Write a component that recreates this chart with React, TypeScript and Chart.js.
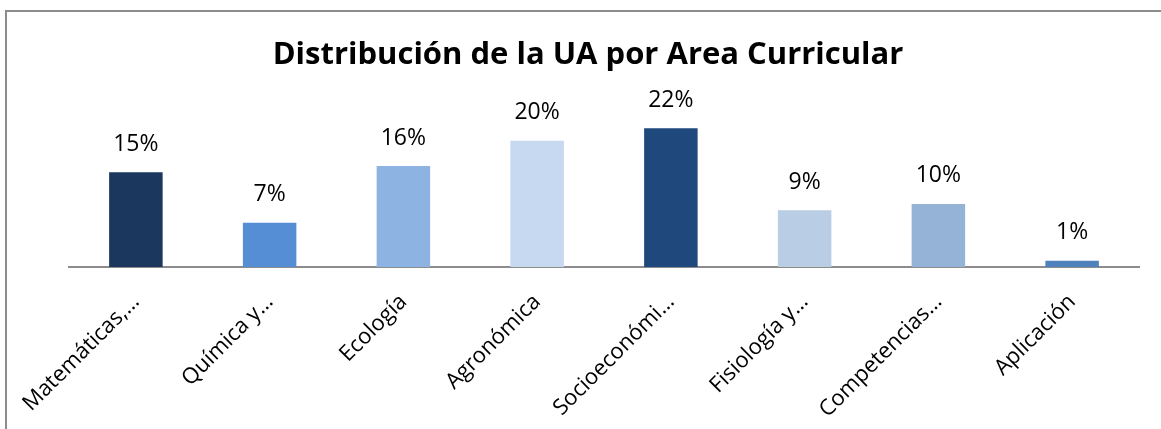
import React, { useEffect, useRef } from "react";
import { Chart, registerables } from "chart.js";

Chart.register(...registerables);

const categories = [
  "Matemáticas,…",
  "Química y…",
  "Ecología",
  "Agronómica",
  "Socioeconómi…",
  "Fisiología y…",
  "Competencias…",
  "Aplicación",
];
const values = [15, 7, 16, 20, 22, 9, 10, 1];
const barColors = [
  "#1b375e",
  "#558ed5",
  "#8db3e2",
  "#c6d9f0",
  "#1f497d",
  "#b9cde5",
  "#95b3d7",
  "#4f81bd",
];
const titleText = "Distribución de la UA por Area Curricular";
const FONT = "'Open Sans', 'DejaVu Sans', sans-serif";

const dataLabelPlugin = {
  id: "dataLabels",
  afterDatasetsDraw(chart: any) {
    const ctx = chart.ctx;
    const meta = chart.getDatasetMeta(0);
    ctx.save();
    ctx.font = `23px ${FONT}`;
    ctx.fillStyle = "#000";
    ctx.textAlign = "center";
    ctx.textBaseline = "middle";
    meta.data.forEach((bar: any, i: number) => {
      ctx.fillText(values[i] + "%", bar.x, bar.y - 28);
    });
    ctx.restore();
  },
};

export default function App() {
  const ref = useRef<HTMLCanvasElement>(null);
  useEffect(() => {
    document.body.style.margin = "0";
    const chart = new Chart(ref.current!, {
      type: "bar",
      data: {
        labels: categories,
        datasets: [
          {
            data: values,
            backgroundColor: barColors,
            categoryPercentage: 1,
            barPercentage: 0.4,
          },
        ],
      },
      options: {
        animation: false,
        responsive: false,
        maintainAspectRatio: false,
        layout: { padding: { top: 10, left: 37, right: 22, bottom: 0 } },
        plugins: {
          legend: { display: false },
          tooltip: { enabled: false },
          title: {
            display: true,
            text: titleText,
            color: "#000",
            font: { family: FONT, size: 31, weight: "bold", lineHeight: 1.2 },
            padding: { top: 27, bottom: 35 },
          },
        },
        scales: {
          y: {
            display: true,
            min: 0,
            max: 25,
            afterFit(scale: any) {
              scale.width = 32;
            },
            ticks: { display: false },
            grid: { display: false, drawTicks: false },
            border: { display: false },
          },
          x: {
            afterFit(scale: any) {
              scale.height = 162;
            },
            grid: { display: false, drawTicks: false },
            border: { display: true, color: "#8c8c8c", width: 2 },
            ticks: {
              minRotation: 45,
              maxRotation: 45,
              color: "#000",
              padding: 22,
              labelOffset: 0,
              font: { family: FONT, size: 22 },
            },
          },
        },
      },
      plugins: [dataLabelPlugin],
    });
    return () => chart.destroy();
  }, []);
  return (
    <div style={{ position: "relative", width: 1161, height: 429, overflow: "hidden", background: "#fff" }}>
      <canvas ref={ref} width={1161} height={429} style={{ display: "block" }} />
      <div
        style={{
          position: "absolute",
          left: 5,
          top: 10,
          width: 1300,
          height: 600,
          borderTop: "2px solid #8c8c8c",
          borderLeft: "2px solid #8c8c8c",
          pointerEvents: "none",
        }}
      />
    </div>
  );
}
